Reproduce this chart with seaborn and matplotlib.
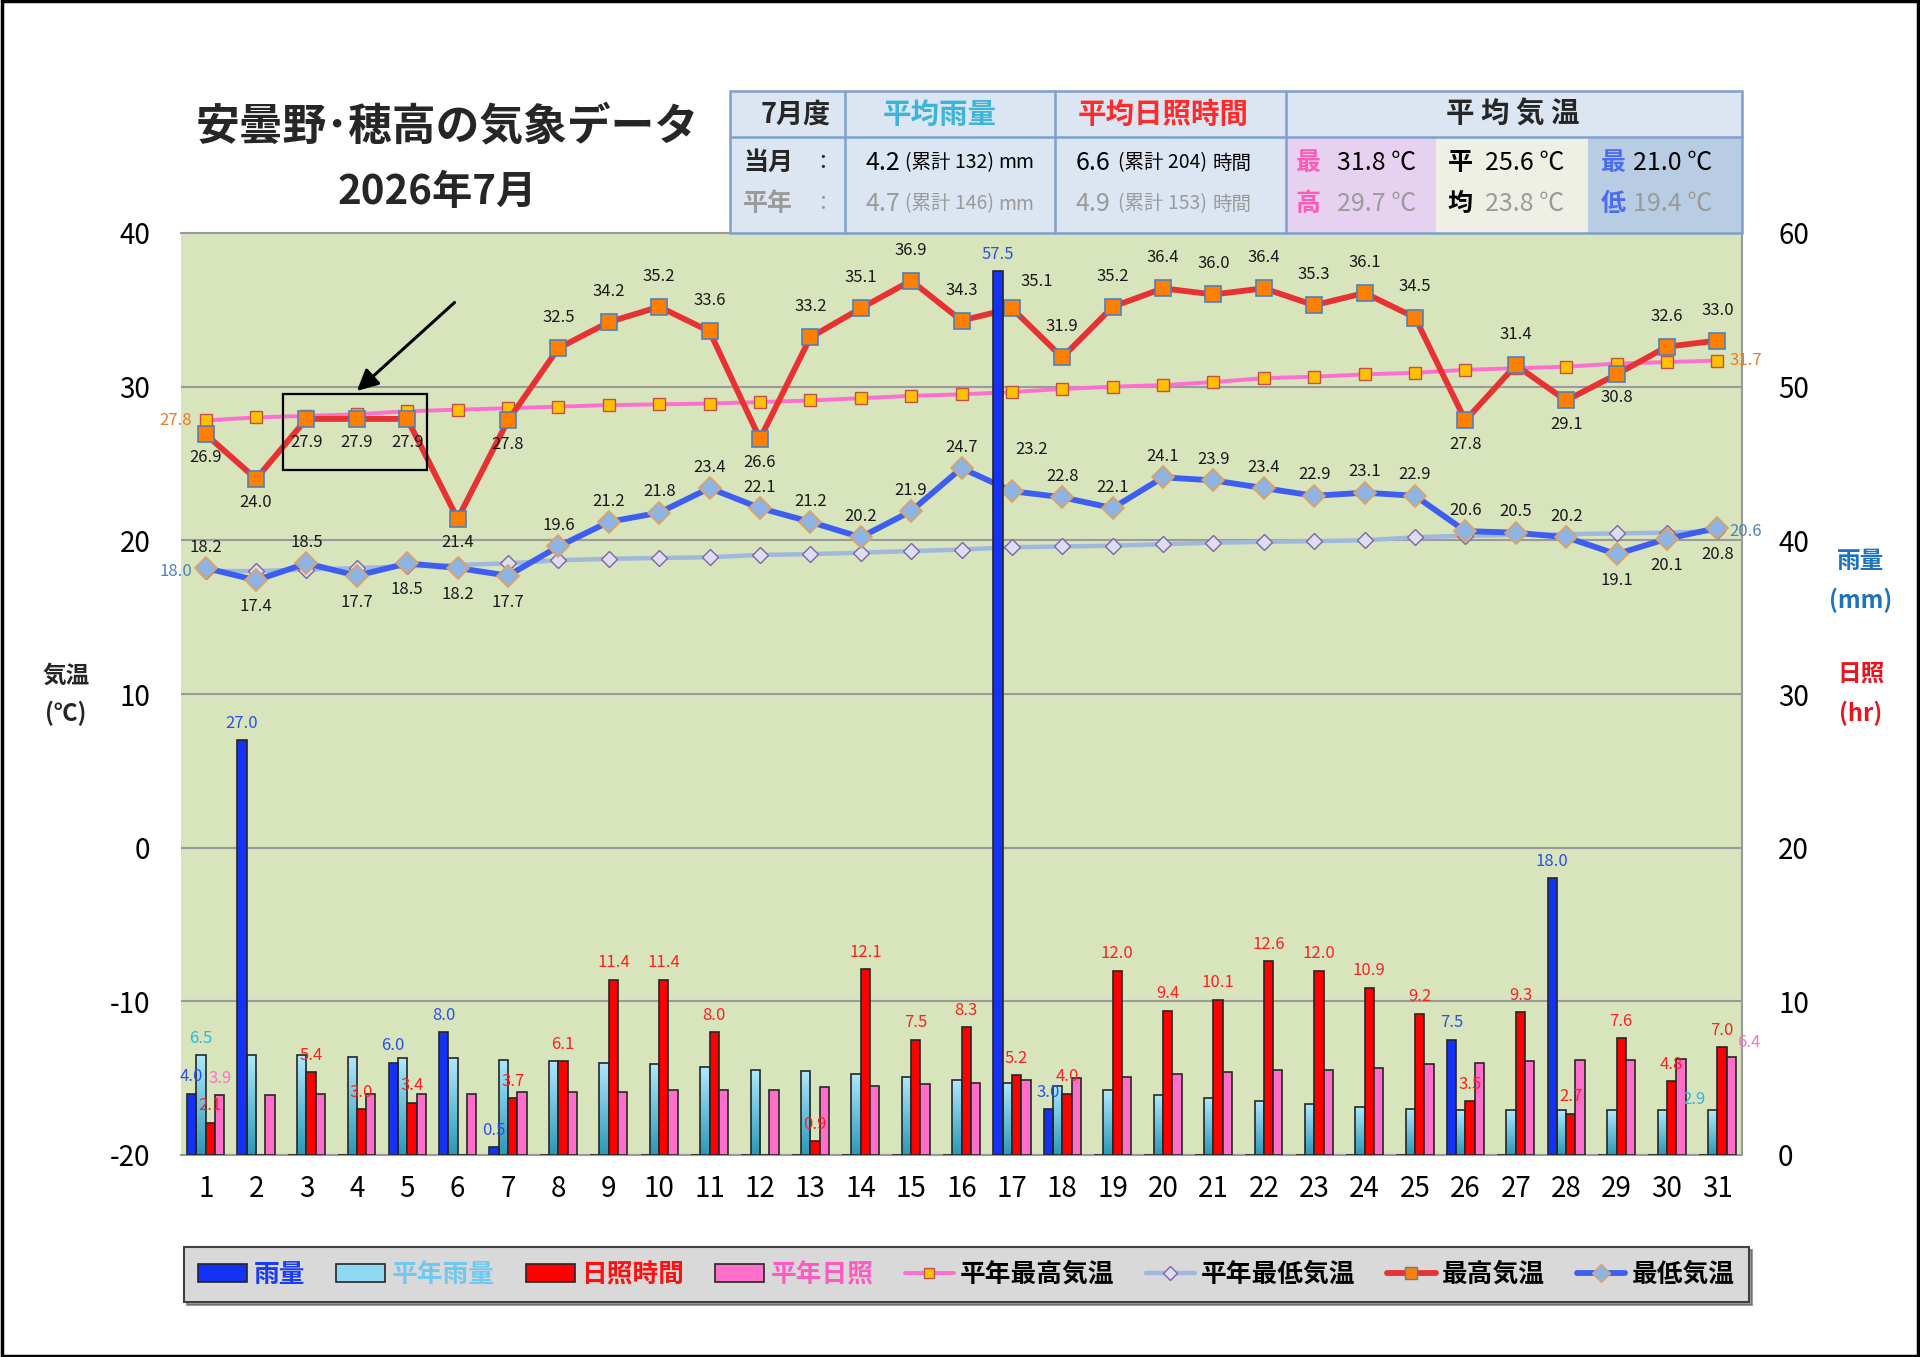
import numpy as np
import pandas as pd
import matplotlib
matplotlib.use('Agg')
import matplotlib.pyplot as plt
import seaborn as sns
from matplotlib.patches import Rectangle, Patch
from matplotlib.lines import Line2D
from matplotlib.colors import LinearSegmentedColormap

# ---- data ----
days = list(range(1, 32))
rain = [4.0, 27.0, 0, 0, 6.0, 8.0, 0.5, 0, 0, 0, 0, 0, 0, 0, 0, 0,
        57.5, 3.0, 0, 0, 0, 0, 0, 0, 0, 7.5, 0, 18.0, 0, 0, 0]
rain_normal = [6.5, 6.5, 6.5, 6.4, 6.3, 6.3, 6.2, 6.1, 6.0, 5.9, 5.7, 5.5, 5.45, 5.3, 5.1, 4.9,
               4.7, 4.5, 4.2, 3.9, 3.7, 3.5, 3.3, 3.15, 3.0, 2.9, 2.9, 2.9, 2.9, 2.9, 2.9]
sun = [2.1, 0, 5.4, 3.0, 3.4, 0, 3.7, 6.1, 11.4, 11.4, 8.0, 0, 0.9, 12.1, 7.5, 8.3,
       5.2, 4.0, 12.0, 9.4, 10.1, 12.6, 12.0, 10.9, 9.2, 3.5, 9.3, 2.7, 7.6, 4.8, 7.0]
sun_normal = [3.9, 3.9, 4.0, 4.0, 4.0, 4.0, 4.1, 4.1, 4.1, 4.2, 4.25, 4.25, 4.4, 4.5, 4.6, 4.7,
              4.9, 5.0, 5.1, 5.3, 5.4, 5.5, 5.55, 5.65, 5.9, 6.0, 6.1, 6.15, 6.15, 6.25, 6.4]
tmax = [26.9, 24.0, 27.9, 27.9, 27.9, 21.4, 27.8, 32.5, 34.2, 35.2, 33.6, 26.6, 33.2, 35.1, 36.9, 34.3,
        35.1, 31.9, 35.2, 36.4, 36.0, 36.4, 35.3, 36.1, 34.5, 27.8, 31.4, 29.1, 30.8, 32.6, 33.0]
tmin = [18.2, 17.4, 18.5, 17.7, 18.5, 18.2, 17.7, 19.6, 21.2, 21.8, 23.4, 22.1, 21.2, 20.2, 21.9, 24.7,
        23.2, 22.8, 22.1, 24.1, 23.9, 23.4, 22.9, 23.1, 22.9, 20.6, 20.5, 20.2, 19.1, 20.1, 20.8]
tmax_normal = [27.8, 28.0, 28.1, 28.2, 28.4, 28.5, 28.6, 28.7, 28.8, 28.85, 28.9, 29.0, 29.1, 29.25, 29.4, 29.5,
               29.65, 29.85, 30.0, 30.1, 30.3, 30.55, 30.65, 30.8, 30.9, 31.1, 31.2, 31.3, 31.5, 31.6, 31.7]
tmin_normal = [18.0, 18.0, 18.1, 18.2, 18.3, 18.4, 18.5, 18.7, 18.8, 18.85, 18.9, 19.05, 19.1, 19.2, 19.3, 19.4,
               19.55, 19.6, 19.65, 19.75, 19.85, 19.9, 19.95, 20.0, 20.2, 20.3, 20.35, 20.4, 20.45, 20.5, 20.6]

bar_names = ['雨量', '平年雨量', '日照時間', '平年日照']
line_names = ['平年最高気温', '平年最低気温', '最高気温', '最低気温']

# summary table values
month_label = '7月度'
rain_avg, rain_sum, rain_avg_n, rain_sum_n = '4.2', '132', '4.7', '146'
sun_avg, sun_sum, sun_avg_n, sun_sum_n = '6.6', '204', '4.9', '153'
tmax_avg, tmax_avg_n = '31.8', '29.7'
tmean_avg, tmean_avg_n = '25.6', '23.8'
tmin_avg, tmin_avg_n = '21.0', '19.4'

# label side for the temperature values: a = above, b = below, r = beside the tall rain bar
tmax_side = list('bbbbbbbaaaabaaaaraaaaaaaababbaa')
tmin_side = list('ababbbbaaaaaaaaarrraaaaaaaaabbba')[:31]

sns.set_theme(style='white')
plt.rcParams['font.family'] = ['Noto Sans CJK JP', 'DejaVu Sans']
plt.rcParams['axes.unicode_minus'] = False

bars = pd.DataFrame({
    'day': days * 4,
    'series': sum([[n] * 31 for n in bar_names], []),
    'value': rain + rain_normal + sun + sun_normal,
})

bar_colors = ['#1432f5', '#8fd9f2', '#ff0000', '#ff6ec8']
W, H = 1920, 1357
fig = plt.figure(figsize=(W / 100, H / 100), dpi=100)
fig.patch.set_facecolor('white')

axt = fig.add_axes([181 / W, 1 - 1155 / H, (1742 - 181) / W, (1155 - 233) / H])
axt.set_facecolor('#d8e4bc')
axb = axt.twinx()

# --- temperature lines (drawn below the bars, as in the original) ---
sns.lineplot(x=days, y=tmax_normal, ax=axt, color='#ff6fcf', lw=2.8, marker='s', markersize=8,
             markerfacecolor='#ffc000', markeredgecolor='#c0504d', markeredgewidth=1.0, zorder=3)
sns.lineplot(x=days, y=tmin_normal, ax=axt, color='#9fb8dc', lw=3.2, marker='D', markersize=8.5,
             markerfacecolor='#dcdcf2', markeredgecolor='#8064a2', markeredgewidth=1.0, zorder=3)
sns.lineplot(x=days, y=tmax, ax=axt, color='#e63232', lw=4.2, marker='s', markersize=11,
             markerfacecolor='#ff8000', markeredgecolor='#4f81bd', markeredgewidth=1.2, zorder=4)
sns.lineplot(x=days, y=tmin, ax=axt, color='#3d5ef0', lw=4.2, marker='D', markersize=11,
             markerfacecolor='#8eb4e3', markeredgecolor='#e0a060', markeredgewidth=1.2, zorder=4)

max_off = {'a': (0, 22), 'b': (0, -17), 'r': (18, 19)}
min_off = {'a': (0, 15), 'b': (0, -19), 'r': (14, 30)}
for vals, sides, offs in [(tmax, tmax_side, max_off), (tmin, tmin_side, min_off)]:
    for d, v, s in zip(days, vals, sides):
        if s == 'r' and d != 17:
            s = 'a'
        axt.annotate(f'{v:.1f}', (d, v), xytext=offs[s], textcoords='offset points',
                     ha='center', va='center', fontsize=12, color='#1a1a1a', zorder=6)

axt.annotate(f'{tmax_normal[0]:.1f}', (days[0], tmax_normal[0]), xytext=(-10, 0), textcoords='offset points',
             ha='right', va='center', fontsize=12, color='#f07820')
axt.annotate(f'{tmin_normal[0]:.1f}', (days[0], tmin_normal[0]), xytext=(-10, 0), textcoords='offset points',
             ha='right', va='center', fontsize=12, color='#4f81bd')
axt.annotate(f'{tmax_normal[-1]:.1f}', (days[-1], tmax_normal[-1]), xytext=(9, 0), textcoords='offset points',
             ha='left', va='center', fontsize=12, color='#f07820')
axt.annotate(f'{tmin_normal[-1]:.1f}', (days[-1], tmin_normal[-1]), xytext=(9, 0), textcoords='offset points',
             ha='left', va='center', fontsize=12, color='#4f81bd')

# box and arrow pointing at days 3-5
axt.add_patch(Rectangle((2.53, 24.6), 2.87, 4.9, fill=False, ec='black', lw=1.6, zorder=7))
axt.annotate('', xy=(3.96, 29.6), xytext=(5.98, 35.6),
             arrowprops=dict(arrowstyle='-|>', color='black', lw=2.2, mutation_scale=32), zorder=7)

# --- bars on the right axis ---
sns.barplot(data=bars, x='day', y='value', hue='series', hue_order=bar_names, palette=bar_colors,
            native_scale=True, width=0.74, gap=0, errorbar=None, saturation=1,
            edgecolor='#262626', linewidth=1.2, legend=False, ax=axb)

cmap_nr = LinearSegmentedColormap.from_list('nr', ['#2a98b8', '#b0e8fc'])
grad = np.linspace(0, 1, 256).reshape(-1, 1)
for p in axb.containers[1]:
    x0, w, h = p.get_x(), p.get_width(), p.get_height()
    im = axb.imshow(grad, extent=[x0, x0 + w, 0, h], origin='lower', aspect='auto',
                    cmap=cmap_nr, zorder=p.get_zorder() - 0.05)
    im.set_clip_path(p)
    p.set_facecolor('none')

label_colors = ['#2a50e6', '#30b4e0', '#ff2020', '#ff70c8']
for i, cont in enumerate(axb.containers):
    for j, p in enumerate(cont):
        h = p.get_height()
        if h <= 0:
            continue
        if i in (1, 3) and j not in (0, 30):
            continue
        xc = p.get_x() + p.get_width() / 2
        if i == 1 and j == 30:
            axb.annotate(f'{h:.1f}', (p.get_x(), h), xytext=(-2, 2), textcoords='offset points',
                         ha='right', va='bottom', fontsize=12, color=label_colors[i])
        elif i == 3 and j == 30:
            axb.annotate(f'{h:.1f}', (p.get_x() + p.get_width(), h), xytext=(1, 4), textcoords='offset points',
                         ha='left', va='bottom', fontsize=12, color=label_colors[i])
        else:
            axb.annotate(f'{h:.1f}', (xc, h), xytext=(0, 6), textcoords='offset points',
                         ha='center', va='bottom', fontsize=12, color=label_colors[i])

# --- axes formatting ---
axt.set_xlim(0.51, 31.49)
axt.set_ylim(-20, 40)
axb.set_ylim(0, 60)
axt.set_yticks(range(-20, 41, 10))
axb.set_yticks(range(0, 61, 10))
axt.set_xticks(days)
axt.set_xticklabels([str(d) for d in days])
axt.set_xlabel('')
axt.set_ylabel('')
axb.set_ylabel('')
axt.tick_params(axis='x', length=0, pad=14, labelsize=20, labelcolor='black')
axt.tick_params(axis='y', length=0, pad=22, labelsize=20, labelcolor='black')
axb.tick_params(axis='y', length=0, pad=26, labelsize=20, labelcolor='black')
axt.grid(axis='y', color='#9a9a9a', lw=1.5)
axt.grid(axis='x', visible=False)
axt.set_axisbelow(True)
for name, sp in axt.spines.items():
    sp.set_color('#9a9a9a')
    sp.set_linewidth(1.5)
axt.spines['left'].set_visible(False)
for sp in axb.spines.values():
    sp.set_visible(False)

# --- legend ---
handles = [Patch(fc=c, ec='#262626', lw=1.2) for c in bar_colors] + [
    Line2D([], [], color='#ff6fcf', lw=2.8, marker='s', markersize=7, markerfacecolor='#ffc000', markeredgecolor='#c0504d'),
    Line2D([], [], color='#9fb8dc', lw=3.2, marker='D', markersize=7, markerfacecolor='#dcdcf2', markeredgecolor='#8064a2'),
    Line2D([], [], color='#e63232', lw=4.2, marker='s', markersize=9, markerfacecolor='#ff8000', markeredgecolor='#4f81bd'),
    Line2D([], [], color='#3d5ef0', lw=4.2, marker='D', markersize=9, markerfacecolor='#8eb4e3', markeredgecolor='#e0a060'),
]
leg = fig.legend(handles, bar_names + line_names, loc='center',
                 bbox_to_anchor=(184 / W, 1 - 1304 / H, (1749 - 184) / W, 59 / H), mode='expand',
                 ncol=8, frameon=True, fancybox=False, shadow=True, facecolor='#d9d9d9',
                 edgecolor='#404040', prop={'weight': 'bold', 'size': 18.5}, handlelength=1.9,
                 handletextpad=0.25, columnspacing=0.8, borderaxespad=0, borderpad=0.55)
leg.get_frame().set_linewidth(1.5)
for t, c in zip(leg.get_texts(), ['#1a3cf0', '#6ec8f0', '#ff1010', '#ff5ac0', 'black', 'black', 'black', 'black']):
    t.set_color(c)

# --- overlay: title, table, axis titles ---
ov = fig.add_axes([0, 0, 1, 1], zorder=10)
ov.set_xlim(0, W)
ov.set_ylim(H, 0)
ov.axis('off')

ov.text(447, 126, '安曇野･穂高の気象データ', ha='center', va='center', fontsize=31.5, fontweight='bold')
ov.text(437, 192, '2026年7月', ha='center', va='center', fontsize=29, fontweight='bold')

ov.text(66, 676, '気温', ha='center', va='center', fontsize=17, fontweight='bold')
ov.text(66, 713, '(℃)', ha='center', va='center', fontsize=17, fontweight='bold')
ov.text(1861, 561, '雨量', ha='center', va='center', fontsize=17, fontweight='bold', color='#1e73be')
ov.text(1861, 600, '(mm)', ha='center', va='center', fontsize=17, fontweight='bold', color='#1e73be')
ov.text(1861, 674, '日照', ha='center', va='center', fontsize=17, fontweight='bold', color='#e8141e')
ov.text(1861, 713, '(hr)', ha='center', va='center', fontsize=17, fontweight='bold', color='#e8141e')

tx0, tx1, ty0, ty1, ty2 = 730, 1742, 91, 137, 233
cols = [730, 845, 1055, 1286, 1742]
ov.add_patch(Rectangle((tx0, ty0), tx1 - tx0, ty2 - ty0, fc='#dce6f2', ec='none'))
ov.add_patch(Rectangle((1286, ty1), 150, ty2 - ty1, fc='#e6d2f0', ec='none'))
ov.add_patch(Rectangle((1436, ty1), 152, ty2 - ty1, fc='#eef0e6', ec='none'))
ov.add_patch(Rectangle((1588, ty1), 154, ty2 - ty1, fc='#b8cce4', ec='none'))
bc = '#7f9fcc'
ov.add_patch(Rectangle((tx0, ty0), tx1 - tx0, ty2 - ty0, fill=False, ec=bc, lw=1.8))
ov.plot([tx0, tx1], [ty1, ty1], color=bc, lw=1.8)
for cx in cols[1:-1]:
    ov.plot([cx, cx], [ty0, ty2], color=bc, lw=1.8)

hy = 115
ov.text(796, hy, month_label, ha='center', va='center', fontsize=19.5, fontweight='bold')
ov.text(940, hy, '平均雨量', ha='center', va='center', fontsize=20.5, fontweight='bold', color='#3cb4dc')
ov.text(1163, hy, '平均日照時間', ha='center', va='center', fontsize=20.5, fontweight='bold', color='#ff2a2a')
ov.text(1513, hy, '平 均 気 温', ha='center', va='center', fontsize=20.5, fontweight='bold')

r1, r2 = 163, 204
gray = '#9a9a9a'
ov.text(743, r1, '当月', ha='left', va='center', fontsize=18, fontweight='bold')
ov.text(823, r1, '：', ha='center', va='center', fontsize=15)
ov.text(743, r2, '平年', ha='left', va='center', fontsize=18, fontweight='bold', color=gray)
ov.text(823, r2, '：', ha='center', va='center', fontsize=15, color=gray)


def chained(x, y, parts, color):
    # parts: (text, size, gap in points) written one after another
    prev = ov.text(x, y, parts[0][0], ha='left', va='center', fontsize=parts[0][1], color=color)
    for txt, size, gap in parts[1:]:
        prev = ov.annotate(txt, xy=(1, 0.5), xycoords=prev, xytext=(gap, 0), textcoords='offset points',
                           ha='left', va='center', fontsize=size, color=color)


for y, c, a, s in [(r1, 'black', rain_avg, rain_sum), (r2, gray, rain_avg_n, rain_sum_n)]:
    chained(866, y, [(a, 18, 0), (f'(累計 {s})', 14, 3), ('mm', 14, 3)], c)
for y, c, a, s in [(r1, 'black', sun_avg, sun_sum), (r2, gray, sun_avg_n, sun_sum_n)]:
    chained(1076, y, [(a, 18, 0), (f'(累計 {s})', 14, 5), ('時間', 14, 4)], c)

for xk, xv, k1, k2, kc, v1, v2 in [(1308, 1337, '最', '高', '#ff5ab4', tmax_avg, tmax_avg_n),
                                   (1460, 1485, '平', '均', 'black', tmean_avg, tmean_avg_n),
                                   (1613, 1633, '最', '低', '#4a6cf0', tmin_avg, tmin_avg_n)]:
    ov.text(xk, r1, k1, ha='center', va='center', fontsize=18, fontweight='bold', color=kc)
    ov.text(xk, r2, k2, ha='center', va='center', fontsize=18, fontweight='bold', color=kc)
    ov.text(xv, r1, f'{v1} ℃', ha='left', va='center', fontsize=18, color='black')
    ov.text(xv, r2, f'{v2} ℃', ha='left', va='center', fontsize=18, color=gray)

# outer frame
fig.patches.append(Rectangle((0.001, 0.001), 0.998, 0.998, transform=fig.transFigure,
                             fill=False, ec='black', lw=2.5))

fig.savefig('out.png', dpi=100)
